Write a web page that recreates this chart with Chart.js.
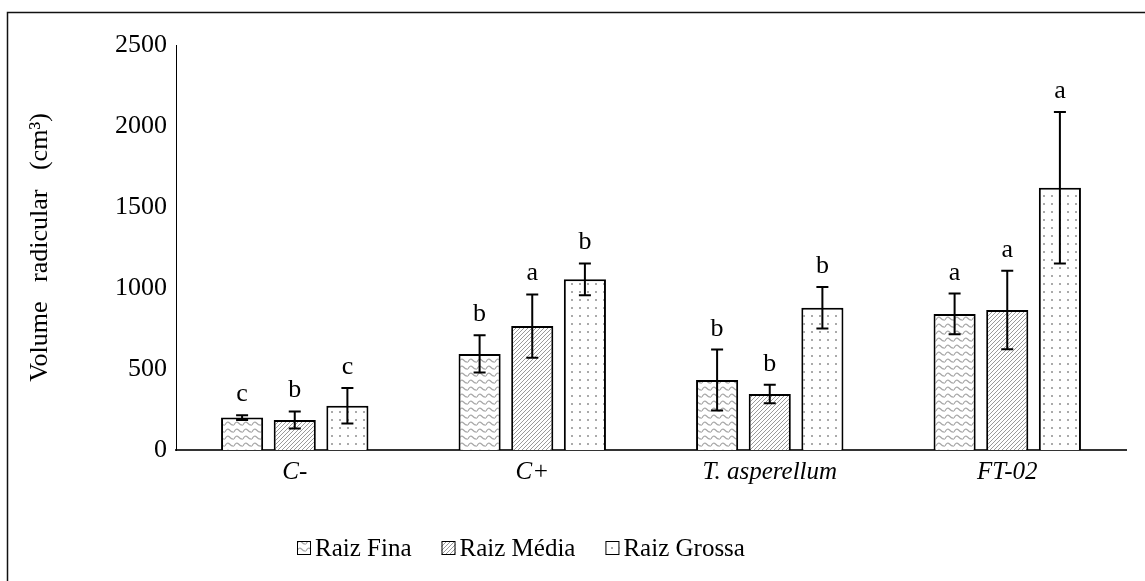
<!DOCTYPE html>
<html>
<head>
<meta charset="utf-8">
<script src="https://cdn.jsdelivr.net/npm/chart.js@4/dist/chart.umd.min.js"></script>
<style>
  html, body { margin: 0; padding: 0; background: #fff; }
  #wrap { width: 1145px; height: 581px; position: relative; }
</style>
</head>
<body>
<div id="wrap"><canvas id="c" width="1145" height="581"></canvas></div>
<script>
// ---- data ----
const categories = ['C-', 'C+', 'T. asperellum', 'FT-02'];
const seriesNames = ['Raiz Fina', 'Raiz Média', 'Raiz Grossa'];
const finaValues   = [200, 593, 432, 840];
const finaErrors   = [15, 115, 188, 126];
const mediaValues  = [185, 765, 346, 864];
const mediaErrors  = [53, 195, 57, 242];
const grossaValues = [273, 1054, 878, 1619];
const grossaErrors = [110, 98, 128, 468];
const finaLetters   = ['c', 'b', 'b', 'a'];
const mediaLetters  = ['b', 'a', 'b', 'a'];
const grossaLetters = ['c', 'b', 'b', 'a'];
const yTicks = [0, 500, 1000, 1500, 2000, 2500];

const FONT = '"Liberation Serif", "Times New Roman", serif';

// ---- patterns ----
function makeTile(w, h, draw) {
  const c = document.createElement('canvas');
  c.width = w; c.height = h;
  const g = c.getContext('2d');
  g.fillStyle = '#fff';
  g.fillRect(0, 0, w, h);
  draw(g);
  return document.getElementById('c').getContext('2d').createPattern(c, 'repeat');
}
const wavePattern = makeTile(9, 7, g => {
  g.strokeStyle = '#a8a8a8'; g.lineWidth = 1.2;
  g.beginPath(); g.moveTo(0, 5); g.quadraticCurveTo(2.25, 0.5, 4.5, 3); g.quadraticCurveTo(6.75, 5.5, 9, 5); g.stroke();
});
const hatchPattern = makeTile(4, 4, g => {
  g.strokeStyle = '#9a9a9a'; g.lineWidth = 1;
  g.beginPath();
  g.moveTo(-1, 5); g.lineTo(5, -1);
  g.moveTo(3, 5); g.lineTo(5, 3);
  g.moveTo(-1, 1); g.lineTo(1, -1);
  g.stroke();
});
const dotPattern = makeTile(8, 8, g => {
  g.fillStyle = '#aaaaaa';
  g.fillRect(3, 3, 2, 2);
});

const seriesValues = [finaValues, mediaValues, grossaValues];
const seriesErrors = [finaErrors, mediaErrors, grossaErrors];
const seriesLetters = [finaLetters, mediaLetters, grossaLetters];
const seriesFills = [wavePattern, hatchPattern, dotPattern];

// ---- plugins ----
const framePlugin = {
  id: 'frame',
  beforeDraw(chart) {
    const ctx = chart.ctx;
    ctx.save();
    ctx.fillStyle = '#fff';
    ctx.fillRect(0, 0, chart.width, chart.height);
    ctx.strokeStyle = '#111';
    ctx.lineWidth = 1.5;
    ctx.beginPath();
    ctx.moveTo(7.5, chart.height);
    ctx.lineTo(7.5, 12.5);
    ctx.lineTo(chart.width, 12.5);
    ctx.stroke();
    ctx.restore();
  }
};

const errorBarPlugin = {
  id: 'errorBars',
  afterDatasetsDraw(chart) {
    const ctx = chart.ctx;
    const y = chart.scales.y;
    ctx.save();
    chart.data.datasets.forEach((ds, di) => {
      const meta = chart.getDatasetMeta(di);
      meta.data.forEach((bar, i) => {
        const v = ds.data[i], e = ds.errors[i];
        const yTop = y.getPixelForValue(v + e);
        const yBot = y.getPixelForValue(v - e);
        const x = bar.x;
        ctx.strokeStyle = '#000';
        ctx.lineWidth = 2;
        ctx.beginPath();
        ctx.moveTo(x, yTop); ctx.lineTo(x, yBot);
        ctx.moveTo(x - 6, yTop); ctx.lineTo(x + 6, yTop);
        ctx.moveTo(x - 6, yBot); ctx.lineTo(x + 6, yBot);
        ctx.stroke();
        ctx.fillStyle = '#000';
        ctx.font = '26px ' + FONT;
        ctx.textAlign = 'center';
        ctx.textBaseline = 'alphabetic';
        ctx.fillText(ds.letters[i], x, yTop - 14);
      });
    });
    ctx.restore();
  }
};

const legendPlugin = {
  id: 'customLegend',
  afterDraw(chart) {
    const ctx = chart.ctx;
    ctx.save();
    ctx.font = '25px ' + FONT;
    ctx.textBaseline = 'middle';
    ctx.textAlign = 'left';
    const cy = 548;
    let x = 297;
    chart.data.datasets.forEach(ds => {
      ctx.fillStyle = ds.backgroundColor;
      ctx.fillRect(x, cy - 7, 14, 14);
      ctx.strokeStyle = '#000';
      ctx.lineWidth = 1;
      ctx.strokeRect(x + 0.5, cy - 6.5, 13, 13);
      ctx.fillStyle = '#000';
      const tx = x + 18;
      ctx.fillText(ds.label, tx, cy + 1);
      x = tx + ctx.measureText(ds.label).width + 30;
    });
    ctx.restore();
  }
};

new Chart(document.getElementById('c'), {
  type: 'bar',
  data: {
    labels: categories,
    datasets: seriesNames.map((name, k) => ({
      label: name,
      data: seriesValues[k],
      errors: seriesErrors[k],
      letters: seriesLetters[k],
      backgroundColor: seriesFills[k],
      borderColor: '#000',
      borderWidth: 2,
      categoryPercentage: 0.665,
      barPercentage: 0.8
    }))
  },
  options: {
    responsive: false,
    animation: false,
    devicePixelRatio: 1,
    layout: { padding: { left: 0, right: 19, top: 45, bottom: 0 } },
    plugins: {
      legend: { display: false },
      tooltip: { enabled: false }
    },
    scales: {
      x: {
        grid: { display: false, drawTicks: false },
        border: { display: true, color: '#333', width: 2 },
        ticks: {
          color: '#000',
          padding: 7,
          font: { family: FONT, size: 25, style: 'italic' }
        },
        afterFit(scale) { scale.height = 131; }
      },
      y: {
        min: 0,
        max: 2500,
        afterBuildTicks(scale) { scale.ticks = yTicks.map(v => ({ value: v })); },
        grid: { display: false, drawTicks: false },
        border: { display: true, color: '#000', width: 1 },
        ticks: {
          color: '#000',
          padding: 9,
          font: { family: FONT, size: 26 },
          callback: v => String(v)
        },
        title: {
          display: true,
          text: 'Volume   radicular   (cm³)',
          color: '#000',
          font: { family: FONT, size: 26 },
          padding: { top: 25, bottom: 0 }
        },
        afterFit(scale) { scale.width = 176; }
      }
    }
  },
  plugins: [framePlugin, errorBarPlugin, legendPlugin]
});
</script>
</body>
</html>
